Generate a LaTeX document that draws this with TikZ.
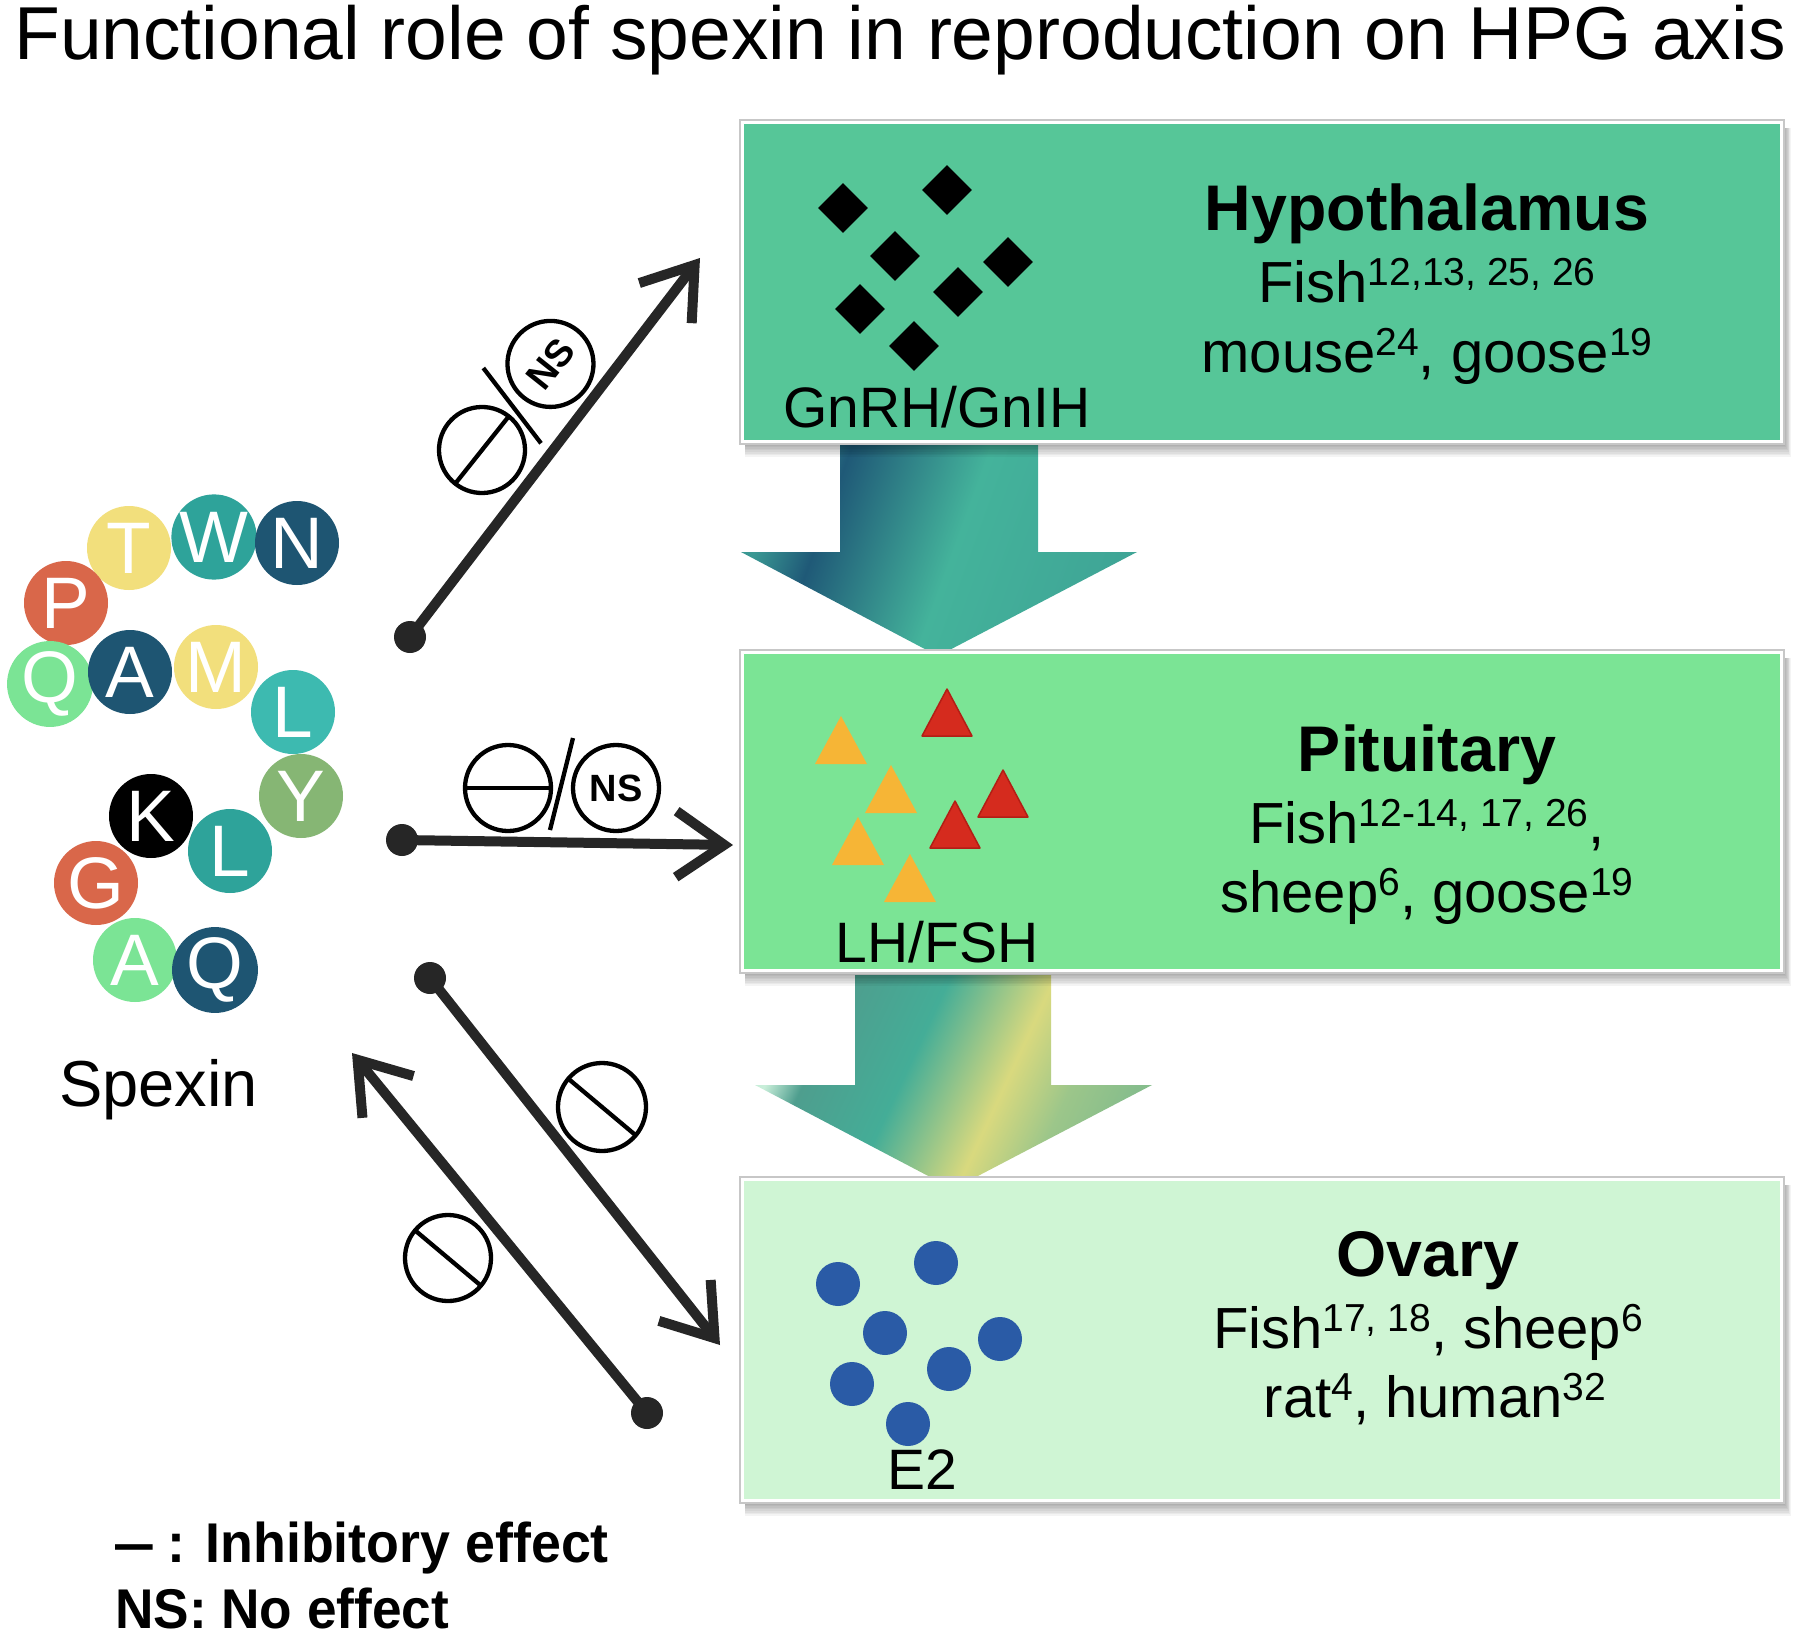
\documentclass[tikz,border=0pt]{standalone}
\usepackage{fontspec}
\setmainfont{Liberation Sans}
\usetikzlibrary{arrows.meta,calc,shapes.geometric}
\definecolor{hypfill}{HTML}{56C698}
\definecolor{pitfill}{HTML}{7BE495}
\definecolor{ovfill}{HTML}{CFF5D4}
\definecolor{cyel}{HTML}{F2DF7C}
\definecolor{cteal}{HTML}{2EA39A}
\definecolor{cteall}{HTML}{3DBAB0}
\definecolor{cnavy}{HTML}{1E5572}
\definecolor{cred}{HTML}{D9674A}
\definecolor{cmint}{HTML}{7BE495}
\definecolor{colive}{HTML}{86B674}
\definecolor{arrowgray}{HTML}{262626}
\definecolor{triorange}{HTML}{F6B536}
\definecolor{trired}{HTML}{D52B1E}
\definecolor{trireddark}{HTML}{B31E15}
\definecolor{dotblue}{HTML}{2A5BA6}
\definecolor{aone0}{HTML}{3A9893}
\definecolor{aone1}{HTML}{1F5977}
\definecolor{aone2}{HTML}{44B39B}
\definecolor{aone3}{HTML}{3FA596}
\definecolor{atwo0}{HTML}{C8EED9}
\definecolor{atwo1}{HTML}{4E9E8E}
\definecolor{atwo2}{HTML}{44AD97}
\definecolor{atwo3}{HTML}{D9D97E}
\definecolor{atwo4}{HTML}{9CC68A}
\definecolor{atwo5}{HTML}{86BD8C}
\pgfdeclarehorizontalshading{shadeone}{100bp}{color(0bp)=(aone0); color(25bp)=(aone0); color(33bp)=(aone1); color(52bp)=(aone2); color(75bp)=(aone3); color(100bp)=(aone3)}
\pgfdeclarehorizontalshading{shadetwo}{100bp}{color(0bp)=(atwo0); color(25bp)=(atwo0); color(30bp)=(atwo1); color(43bp)=(atwo2); color(57bp)=(atwo3); color(66bp)=(atwo4); color(75bp)=(atwo5); color(100bp)=(atwo5)}
\newcommand\refs[1]{\raisebox{17pt}{\fontsize{39}{40}\selectfont #1}}
\begin{document}
\begin{tikzpicture}[x=1pt,y=-1pt,
  letter/.style={circle, minimum size=84pt, inner sep=0pt, text=white, font=\fontsize{73}{73}\selectfont},
  titletext/.style={anchor=base west, inner sep=0pt, font=\fontsize{75}{80}\selectfont},
  organ/.style={anchor=base, inner sep=0pt, font=\bfseries\fontsize{64.5}{70}\selectfont},
  species/.style={anchor=base, inner sep=0pt, font=\fontsize{58}{60}\selectfont},
  hormone/.style={anchor=base, inner sep=0pt, font=\fontsize{57}{60}\selectfont},
  legendtext/.style={anchor=base west, inner sep=0pt, font=\bfseries\fontsize{56}{60}\selectfont},
  organbox/.style={rectangle, draw=black!22, line width=1.5pt, fill=white, minimum width=1044pt, inner sep=0pt},
  diamondmark/.style={diamond, fill=black, minimum width=50pt, minimum height=50pt, inner sep=0pt},
  startdot/.style={circle, fill=arrowgray, minimum size=32pt, inner sep=0pt},
  conn/.style={draw=arrowgray, line width=10pt, line cap=round, -{Straight Barb[length=48pt,width=66pt]}},
  sym/.style={draw=black, line width=4.3pt},
  nsmark/.style={circle, draw=black, line width=4.3pt, minimum size=86pt, inner sep=0pt, font=\bfseries\fontsize{38}{38}\selectfont}
]
\useasboundingbox (0,0) rectangle (1810,1640);
\fill[white] (0,0) rectangle (1810,1640);

% title
\node[titletext] (title) at (14,60) {Functional role of spexin in reproduction on HPG axis};

% block arrows
\shade[shading=shadeone, shading angle=-20] (840,444) -- (1038,444) -- (1038,552) -- (1137,552) -- (938,656) -- (741,552) -- (840,552) -- cycle;
\shade[shading=shadetwo, shading angle=-25] (855,975) -- (1051,975) -- (1051,1085) -- (1152,1085) -- (953,1189) -- (755,1085) -- (855,1085) -- cycle;

% boxes with shadows
\foreach \k in {1,...,8} \fill[black,opacity=0.045] (745,128) rectangle (1784+\k*0.9, 444+\k*1.6);
\node[organbox, minimum height=324pt] (hyp) at (1262,282) {};
\fill[hypfill] ($(hyp.north west)+(5,5)$) rectangle ($(hyp.south east)+(-5,-5)$);
\foreach \k in {1,...,8} \fill[black,opacity=0.045] (745,658) rectangle (1784+\k*0.9, 973+\k*1.6);
\node[organbox, minimum height=323pt] (pit) at (1262,811.5) {};
\fill[pitfill] ($(pit.north west)+(5,5)$) rectangle ($(pit.south east)+(-5,-5)$);
\foreach \k in {1,...,8} \fill[black,opacity=0.045] (745,1185) rectangle (1784+\k*0.9, 1503+\k*1.6);
\node[organbox, minimum height=326pt] (ov) at (1262,1340) {};
\fill[ovfill] ($(ov.north west)+(5,5)$) rectangle ($(ov.south east)+(-5,-5)$);

% hypothalamus content
\node[diamondmark] (d1) at (843,208) {};
\node[diamondmark] (d2) at (947,190) {};
\node[diamondmark] (d3) at (895,256) {};
\node[diamondmark] (d4) at (1008,262) {};
\node[diamondmark] (d5) at (860,309) {};
\node[diamondmark] (d6) at (958,292) {};
\node[diamondmark] (d7) at (914,346) {};
\node[hormone] (gnrh) at (937,427) {GnRH/GnIH};
\node[organ] (hyptitle) at (1427,231) {Hypothalamus};
\node[species] (hyp1) at (1427,302) {Fish\refs{12,13, 25, 26}};
\node[species] (hyp2) at (1427,372) {mouse\refs{24}, goose\refs{19}};

% pituitary content
\foreach \ax/\ay in {841/716, 891/765, 858/817, 910/854}
  \fill[triorange] (\ax,\ay) -- ++(-26,48) -- ++(52,0) -- cycle;
\foreach \ax/\ay in {947/689, 1003/770, 955/801}
  \filldraw[fill=trired, draw=trireddark, line width=1.5pt, line join=round] (\ax,\ay) -- ++(-25,47) -- ++(50,0) -- cycle;
\node[hormone] (lhfsh) at (937,962) {LH/FSH};
\node[organ] (pittitle) at (1427,771) {Pituitary};
\node[species] (pit1) at (1427,843) {Fish\refs{12-14, 17, 26},};
\node[species] (pit2) at (1427,912) {sheep\refs{6}, goose\refs{19}};

% ovary content
\foreach \bx/\by in {838/1284, 936/1263, 885/1333, 1000/1339, 852/1384, 949/1369, 908/1424}
  \fill[dotblue] (\bx,\by) circle[radius=22];
\node[hormone] (e2) at (922,1489) {E2};
\node[organ] (ovtitle) at (1428,1276) {Ovary};
\node[species] (ov1) at (1428,1348) {Fish\refs{17, 18}, sheep\refs{6}};
\node[species] (ov2) at (1435,1417) {rat\refs{4}, human\refs{32}};

% spexin peptide
\node[letter, fill=cyel] (sT) at (129,548) {T};
\node[letter, fill=cteal] (sW) at (214,537) {W};
\node[letter, fill=cnavy] (sN) at (297,543) {N};
\node[letter, fill=cred] (sP) at (66,603) {P};
\node[letter, fill=cmint] (sQ) at (50,684) {Q};
\node[letter, fill=cnavy] (sA) at (130,672) {A};
\node[letter, fill=cyel] (sM) at (216,667) {M};
\node[letter, fill=cteall] (sL) at (293,712) {L};
\node[letter, fill=colive] (sY) at (301,796) {Y};
\node[letter, fill=black] (sK) at (151,816) {K};
\node[letter, fill=cteal] (sL2) at (230,851) {L};
\node[letter, fill=cred] (sG) at (96,883) {G};
\node[letter, fill=cmint] (sA2) at (135,960) {A};
\node[letter, fill=cnavy] (sQ2) at (215,970) {Q};
\node[anchor=base west, inner sep=0pt, font=\fontsize{65}{66}\selectfont] (spexin) at (59,1106) {Spexin};

% connectors
\node[startdot] (dotA) at (410,637) {};
\coordinate (tipA) at (700,258);
\draw[conn] (dotA.center) -- (tipA);
\node[startdot] (dotB) at (402,840) {};
\coordinate (tipB) at (733,845);
\draw[conn] (dotB.center) -- (tipB);
\node[startdot] (dotC) at (430,978) {};
\coordinate (tipC) at (720,1345);
\draw[conn] (dotC.center) -- (tipC);
\node[startdot] (dotD) at (647,1413) {};
\coordinate (tipD) at (352,1053);
\draw[conn] (dotD.center) -- (tipD);

% effect symbols
\begin{scope}[shift={(482,450)}, rotate=51.5]
  \draw[sym] (0,0) circle[radius=43];
  \draw[sym] (-43,0) -- (43,0);
  \draw[sym] (42,42) -- (65,-50);
  \node[nsmark, transform shape] (nsA) at (110,0) {NS};
\end{scope}
\begin{scope}[shift={(508,788)}]
  \draw[sym] (0,0) circle[radius=43];
  \draw[sym] (-43,0) -- (43,0);
  \draw[sym] (42,42) -- (65,-50);
  \node[nsmark] (nsB) at (108,0) {NS};
\end{scope}
\begin{scope}[shift={(602,1107)}, rotate=-40]
  \draw[sym] (0,0) circle[radius=44];
  \draw[sym] (-44,0) -- (44,0);
\end{scope}
\begin{scope}[shift={(448,1258)}, rotate=-40]
  \draw[sym] (0,0) circle[radius=43];
  \draw[sym] (-43,0) -- (43,0);
\end{scope}

% legend
\node[legendtext] (leg1) at (115,1562) {\scalebox{0.96}[1]{\scalebox{0.7}[1]{—} : Inhibitory effect}};
\node[legendtext] (leg2) at (115,1628) {\scalebox{0.95}[1]{NS: No effect}};
\end{tikzpicture}
\end{document}
